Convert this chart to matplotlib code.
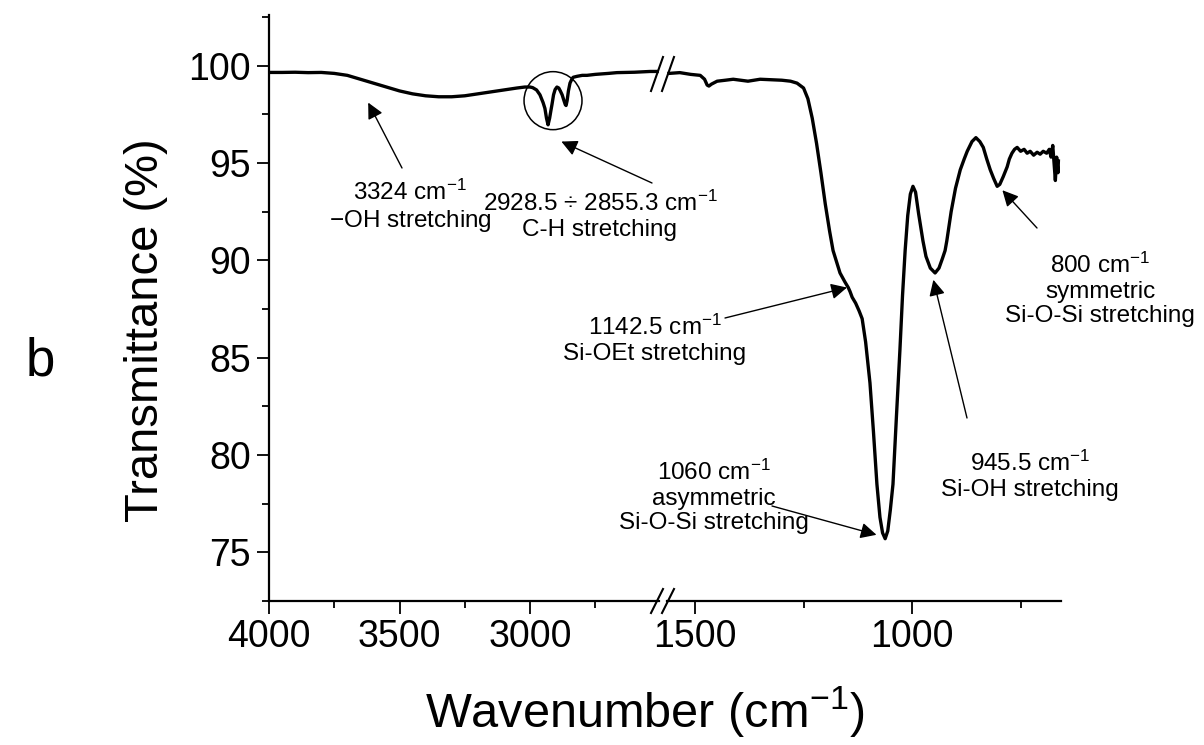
import matplotlib.pyplot as plt
from matplotlib.patches import Ellipse

plt.rcParams['font.family'] = ['Liberation Sans', 'DejaVu Sans']
plt.rcParams['mathtext.fontset'] = 'custom'
plt.rcParams['mathtext.rm'] = 'Liberation Sans'
plt.rcParams['mathtext.it'] = 'Liberation Sans:italic'

# spectrum, high wavenumber part (left of the break)
wn_hi = [4000, 3950, 3900, 3850, 3800, 3750, 3700, 3650, 3600, 3550, 3500, 3450,
         3400, 3350, 3300, 3250, 3200, 3150, 3100, 3050, 3020, 3000, 2990, 2975,
         2962, 2950, 2943, 2937, 2931, 2925, 2920, 2916, 2910, 2904, 2897, 2890,
         2884, 2877, 2870, 2865, 2862, 2858, 2853, 2847, 2840, 2835, 2820, 2800,
         2782, 2750, 2700, 2667, 2600, 2540, 2513]
tr_hi = [99.65, 99.65, 99.66, 99.64, 99.65, 99.6, 99.5, 99.3, 99.1, 98.9, 98.7, 98.55,
         98.45, 98.4, 98.4, 98.45, 98.55, 98.65, 98.75, 98.85, 98.9, 98.9, 98.87, 98.75,
         98.5, 98.1, 97.8, 97.3, 96.96, 97.3, 97.7, 98.0, 98.5, 98.77, 98.9, 98.85,
         98.7, 98.5, 98.2, 98.0, 97.95, 98.2, 98.7, 99.1, 99.3, 99.4, 99.45, 99.5,
         99.5, 99.55, 99.6, 99.64, 99.66, 99.7, 99.7]

# low wavenumber part (right of the break)
wn_lo = [1560, 1535, 1510, 1488, 1478, 1472, 1468, 1462, 1449, 1430, 1412, 1395,
         1378, 1350, 1330, 1300, 1280, 1265, 1250, 1240, 1230, 1220, 1210, 1200,
         1190, 1182, 1166, 1155, 1147, 1143, 1138, 1130, 1122, 1115, 1107, 1097,
         1089, 1081, 1074, 1068, 1062, 1056, 1050, 1044, 1036, 1028, 1022, 1016,
         1010, 1004, 998, 992, 985, 975, 968, 958, 947, 938, 930, 924, 920, 910,
         900, 889, 880, 873, 862, 853, 844, 836, 828, 820, 812, 804, 798, 790,
         781, 776, 770, 764, 758, 750, 742, 735, 728, 720, 712, 705, 698, 690,
         684, 680, 676, 673, 670, 667, 664, 663]
tr_lo = [99.6, 99.64, 99.55, 99.5, 99.3, 99.0, 98.95, 99.05, 99.2, 99.25, 99.3, 99.25,
         99.2, 99.3, 99.28, 99.25, 99.2, 99.1, 98.85, 98.3, 97.3, 96.0, 94.5, 92.9,
         91.5, 90.5, 89.35, 88.9, 88.6, 88.4, 88.1, 87.8, 87.4, 87.0, 85.8, 83.7,
         81.2, 78.5, 76.8, 76.0, 75.7, 76.1, 77.2, 78.5, 82.0, 85.4, 88.2, 90.5,
         92.3, 93.4, 93.8, 93.5, 92.4, 91.0, 90.2, 89.6, 89.35, 89.6, 90.1, 90.5, 91.0, 92.5,
         93.7, 94.65, 95.2, 95.6, 96.1, 96.3, 96.1, 95.8, 95.2, 94.65, 94.2, 93.8, 93.9, 94.3,
         94.8, 95.2, 95.5, 95.7, 95.8, 95.6, 95.7, 95.5, 95.6, 95.4, 95.55, 95.45, 95.6, 95.5,
         95.7, 95.3, 95.9, 95.0, 94.1, 95.3, 94.5, 95.1]

W, H = 1204, 745
fig = plt.figure(figsize=(W / 100, H / 100), dpi=100)


def box(x0, x1, y0=15, y1=601):
    return [x0 / W, 1 - y1 / H, (x1 - x0) / W, (y1 - y0) / H]


def fp(x, y):
    # figure pixel position measured from the top-left corner
    return (x, H - y)


ax1 = fig.add_axes(box(269, 659))
ax2 = fig.add_axes(box(667, 1061))

for ax, wn, tr in [(ax1, wn_hi, tr_hi), (ax2, wn_lo, tr_lo)]:
    ax.plot(wn, tr, color='black', lw=2.4, solid_joinstyle='round')
    ax.set_ylim(72.5, 102.6)
    for s in ['top', 'right']:
        ax.spines[s].set_visible(False)
    ax.spines['bottom'].set_linewidth(1.6)
    ax.spines['left'].set_linewidth(1.6)
    ax.tick_params(which='major', direction='out', length=9, width=1.3, labelsize=27, pad=4)
    ax.tick_params(which='minor', direction='out', length=5, width=1.3)

ax1.set_xlim(4000, 2506)
ax2.set_xlim(1564.5, 657)
ax1.set_xticks([4000, 3500, 3000])
ax1.set_xticks([3750, 3250, 2750], minor=True)
ax2.set_xticks([1500, 1000])
ax2.set_xticks([1250, 750], minor=True)
ax1.set_yticks([75, 80, 85, 90, 95, 100])
ax1.set_yticks([72.5, 77.5, 82.5, 87.5, 92.5, 97.5, 102.5], minor=True)
ax2.spines['left'].set_visible(False)
ax2.set_yticks([])
ax2.set_yticks([], minor=True)
ax2.patch.set_alpha(0)

# break marks on the axis and on the curve
for yb, hh in [(601, 12), (74, 17)]:
    for xb in (657, 668):
        fig.add_artist(plt.Line2D([(xb - 6) / W, (xb + 6) / W],
                                  [1 - (yb + hh) / H, 1 - (yb - hh) / H],
                                  color='black', lw=1.5))

# circle round the C-H bands
ax1.add_patch(Ellipse((2912, 98.2), 222, 2.98, fill=False, lw=1.1, color='black'))

fs = 17.5
texts = [
    ('3324 cm$^{-1}$\n$-$OH stretching', 410, 207),
    ('2928.5 ÷ 2855.3 cm$^{-1}$\nC-H stretching', 600, 216),
    ('1142.5 cm$^{-1}$\nSi-OEt stretching', 655, 340),
    ('1060 cm$^{-1}$\nasymmetric\nSi-O-Si stretching', 714, 497),
    ('945.5 cm$^{-1}$\nSi-OH stretching', 1030, 476),
    ('800 cm$^{-1}$\nsymmetric\nSi-O-Si stretching', 1100, 290),
]
for t, x, y in texts:
    fig.text(x / W, 1 - y / H, t, fontsize=fs, ha='center', va='center', linespacing=1.15)

arrows = [
    (ax1, (3620, 98.1), (402, 168)),
    (ax1, (2880, 96.1), (652, 183)),
    (ax2, (1150, 88.6), (725, 318)),
    (ax2, (1082, 75.9), (772, 506)),
    (ax2, (951, 89.0), (967, 418)),
    (ax2, (792, 93.6), (1037, 228)),
]
for ax, tip, tail in arrows:
    ax.annotate('', xy=tip, xycoords='data', xytext=fp(*tail), textcoords='figure pixels',
                arrowprops=dict(arrowstyle='-|>', color='black', lw=1.0,
                                mutation_scale=24, shrinkA=0, shrinkB=0))

fig.text(645 / W, 1 - 712 / H, 'Wavenumber (cm$^{-1}$)', fontsize=35, ha='center', va='center')
fig.text(146 / W, 1 - 330 / H, 'Transmittance (%)', fontsize=34, ha='center', va='center',
         rotation=90)
fig.text(40 / W, 1 - 362 / H, 'b', fontsize=38, ha='center', va='center')

fig.savefig('out.png', dpi=100)
